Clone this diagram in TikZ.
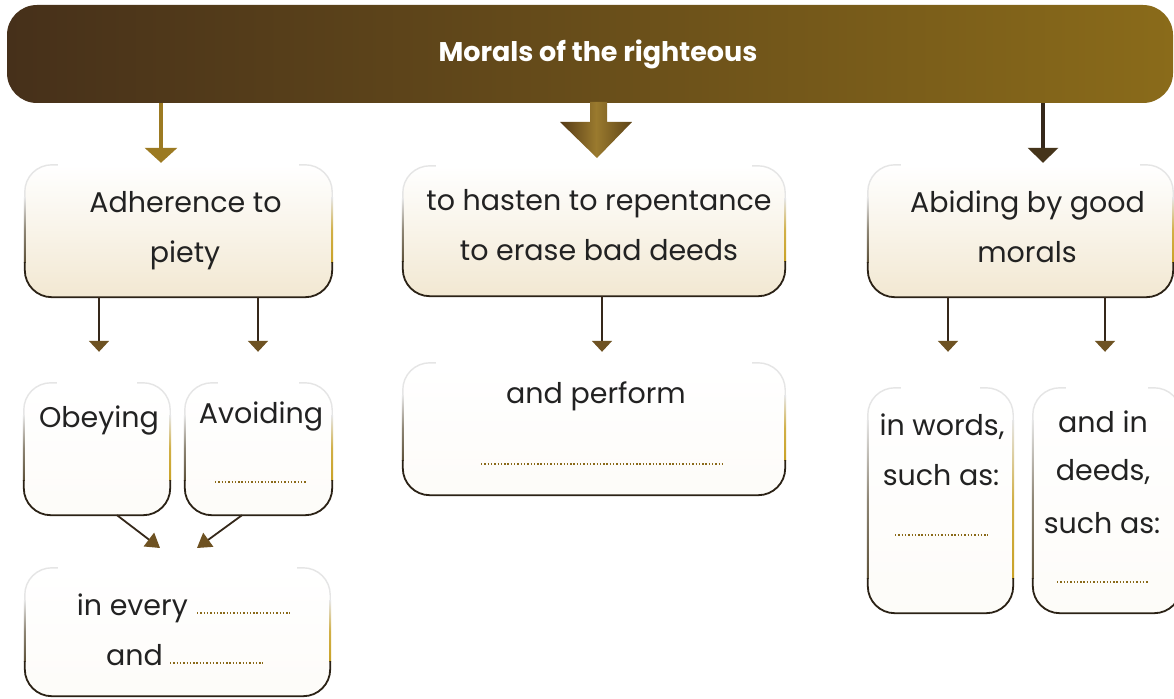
\documentclass[tikz,border=0pt]{standalone}
\usepackage{fontspec}
\setmainfont{Poppins}
\usetikzlibrary{arrows.meta,calc}
\definecolor{barL}{HTML}{46301A}
\definecolor{barR}{HTML}{8A6B1A}
\definecolor{goldc}{HTML}{9C7A22}
\definecolor{darkb}{HTML}{35281A}
\definecolor{darkh}{HTML}{45341A}
\definecolor{headc}{HTML}{6E5222}
\definecolor{cream}{HTML}{F2E8D2}
\definecolor{edgeD}{HTML}{2B2216}
\definecolor{sideL}{HTML}{5E523A}
\definecolor{sideR}{HTML}{C9A227}
\definecolor{dotc}{HTML}{8A6A1A}
\definecolor{txt}{HTML}{222222}
\definecolor{arrL}{HTML}{553A16}
\definecolor{arrM}{HTML}{9A7A2E}
\definecolor{arrR}{HTML}{5E4418}
\newcommand{\mybxframe}[2]{%
  \draw[black!10, line width=1.4pt, rounded corners=#2]
    ($(#1.north west)+(0,#2+6)$) -- (#1.north west) -- ($(#1.north west)+(#2+6,0)$);
  \draw[black!10, line width=1.4pt, rounded corners=#2]
    ($(#1.north east)+(0,#2+6)$) -- (#1.north east) -- ($(#1.north east)+(-#2-6,0)$);
  \shade[top color=black!10, bottom color=sideL, middle color=sideL!70]
    ($(#1.north west)+(-1,#2+6)$) rectangle ($(#1.south west)+(1,-#2-8)$);
  \shade[top color=black!10, bottom color=sideR, middle color=sideR!85]
    ($(#1.north east)+(-1,#2+6)$) rectangle ($(#1.south east)+(1,-#2-8)$);
  \draw[edgeD, line width=1.8pt, rounded corners=#2]
    ($(#1.south west)+(0,-#2-8)$) -- (#1.south west) -- (#1.south east) -- ($(#1.south east)+(0,-#2-8)$);
}
\begin{document}
\begin{tikzpicture}[x=1pt,y=-1pt,
  bigbox/.style={rectangle, rounded corners=27pt, top color=white, bottom color=cream, inner sep=0pt},
  smallbox/.style={rectangle, rounded corners=27pt, top color=white, bottom color=cream!15, inner sep=0pt},
  lbl/.style={anchor=base, inner sep=0pt, text=txt, font=\fontsize{28.5}{28.5}\selectfont},
  dline/.style={draw=dotc, line width=1.7pt, dash pattern=on 1.4pt off 1.9pt},
  thinarrow/.style={draw=darkb, line width=1.8pt, -{Triangle[width=20pt,length=11pt,color=headc]}},
  goldarrow/.style={draw=goldc, line width=4.5pt, -{Triangle[width=32pt,length=15pt,color=goldc]}},
  darkarrow/.style={draw=darkb, line width=4.5pt, -{Triangle[width=30pt,length=15pt,color=darkh]}},
  diagarrow/.style={draw=darkb, line width=1.8pt, -{Triangle[width=17pt,length=14pt,color=headc]}}
]
\useasboundingbox (0,0) rectangle (1174,698);
\fill[white] (0,0) rectangle (1174,698);

% top bar
\node[rectangle, rounded corners=30pt, left color=barL, right color=barR,
      minimum width=1166pt, minimum height=98pt, inner sep=0pt] (top) at (590,54) {};
\node[anchor=base, inner sep=0pt, text=white, font=\fontsize{27}{27}\selectfont\bfseries] (title) at (598,62) {Morals of the righteous};

% boxes
\node[bigbox, minimum width=307pt, minimum height=132pt] (A) at (178.5,231) {};
\node[bigbox, minimum width=382pt, minimum height=130pt] (B) at (594,231) {};
\node[bigbox, minimum width=305pt, minimum height=132pt] (C) at (1020.5,231) {};
\node[smallbox, minimum width=146pt, minimum height=132pt] (Ob) at (97,449) {};
\node[smallbox, minimum width=147pt, minimum height=132pt] (Av) at (258.5,449) {};
\node[smallbox, minimum width=305pt, minimum height=128pt] (E) at (177.5,632) {};
\node[smallbox, minimum width=382pt, minimum height=132pt] (P) at (594,429) {};
\node[smallbox, minimum width=145pt, minimum height=225pt] (W) at (940.5,500.5) {};
\node[smallbox, minimum width=148pt, minimum height=225pt] (D) at (1107,500.5) {};

\foreach \n in {A,B,C,Ob,Av,E,P,W,D} {\mybxframe{\n}{27}}

% middle block arrow
\shade[left color=arrL, right color=arrR, middle color=arrM]
  (590,102) -- (607,102) -- (607,122) -- (632,122) -- (597,158) -- (560,122) -- (590,122) -- cycle;

% arrows
\draw[goldarrow, shorten >=2pt] (161,0 |- top.south) -- (161,0 |- A.north);
\draw[darkarrow, shorten >=2pt] (1043,0 |- top.south) -- (1043,0 |- C.north);
\draw[thinarrow, shorten >=31pt] (99,0 |- A.south) -- (99,0 |- Ob.north);
\draw[thinarrow, shorten >=31pt] (258,0 |- A.south) -- (258,0 |- Av.north);
\draw[thinarrow, shorten >=11pt] (602,0 |- B.south) -- (602,0 |- P.north);
\draw[thinarrow, shorten >=36pt] (948,0 |- C.south) -- (948,0 |- W.north);
\draw[thinarrow, shorten >=36pt] (1105,0 |- C.south) -- (1105,0 |- D.north);
\coordinate (e1) at (160,548);
\coordinate (e2) at (197,548);
\draw[diagarrow] (117,0 |- Ob.south) -- (e1);
\draw[diagarrow] (242,0 |- Av.south) -- (e2);

% texts
\node[lbl] (a1) at (185.5,212) {Adherence to};
\node[lbl] (a2) at (185,262) {piety};
\node[lbl] (b1) at (599,210) {to hasten to repentance};
\node[lbl] (b2) at (599,260) {to erase bad deeds};
\node[lbl] (c1) at (1027.5,212) {Abiding by good};
\node[lbl] (c2) at (1027,262) {morals};
\node[lbl] (ob) at (99,427) {Obeying};
\node[lbl] (av) at (261,423) {Avoiding};
\draw[dline] (215,482) -- (307,482);
\node[lbl, anchor=base east] (e1t) at (188,615) {in every};
\draw[dline] (197,613) -- (290,613);
\node[lbl, anchor=base east] (e2t) at (163,665) {and};
\draw[dline] (170,663) -- (263,663);
\node[lbl] (p1) at (596,403) {and perform};
\draw[dline] (481,464) -- (725,464);
\node[lbl] (w1) at (942,435) {in words,};
\node[lbl] (w2) at (941,485) {such as:};
\draw[dline] (895,535) -- (988,535);
\node[lbl] (d1) at (1103,432) {and in};
\node[lbl] (d2) at (1103,480) {deeds,};
\node[lbl] (d3) at (1102,533) {such as:};
\draw[dline] (1057,582) -- (1148,582);
\end{tikzpicture}
\end{document}
